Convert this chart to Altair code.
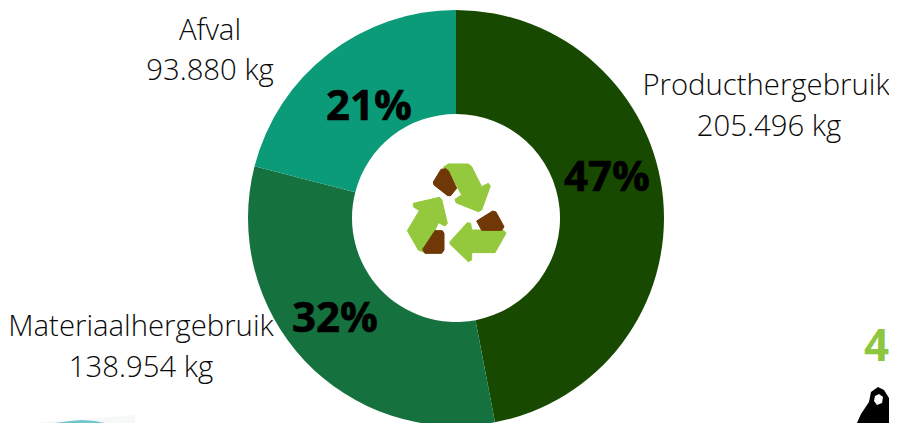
import altair as alt
import pandas as pd

categories = ["Producthergebruik", "Materiaalhergebruik", "Afval"]
shares = [47, 32, 21]
value_labels = ["205.496 kg", "138.954 kg", "93.880 kg"]
percents = ["47%", "32%", "21%"]
colors = ["#174a00", "#15723f", "#0b9b78"]

FONT = "Open Sans"
W, H = 881, 415
OX, OY = 8, 8  # page margin


def page_x(x):
    return x - OX


def page_y(y):
    return y - OY


df = pd.DataFrame({"category": categories, "value": shares, "idx": [0, 1, 2]})

donut = alt.Chart(df).mark_arc(outerRadius=208, innerRadius=104).encode(
    theta=alt.Theta("value:Q", stack=True),
    order=alt.Order("idx:Q"),
    color=alt.Color("category:N", scale=alt.Scale(domain=categories, range=colors), legend=None),
    x=alt.value(page_x(456)),
    y=alt.value(page_y(218)),
)

one = pd.DataFrame({"a": [1]})


def label(text, x, y, size=29.3, weight=300, color="#0a0a0a", align="center", stroke=0):
    kw = {"stroke": color, "strokeWidth": stroke} if stroke else {}
    return alt.Chart(pd.DataFrame({"t": [text]})).mark_text(
        font=FONT, fontSize=size, fontWeight=weight, color=color, align=align, baseline="alphabetic", **kw
    ).encode(x=alt.value(page_x(x)), y=alt.value(page_y(y)), text="t:N")


def to_path(points, cx, cy, half):
    cmds = []
    for i, (px, py) in enumerate(points):
        cmds.append(("M" if i == 0 else "L") + f"{(px - cx) / half:.4f},{(py - cy) / half:.4f}")
    return " ".join(cmds) + " Z"


def icon(points, color, x=455, y=210, span=110):
    return alt.Chart(one).mark_point(
        shape=to_path(points, 225, 210, 165), filled=True, fill=color, stroke=color, strokeWidth=1, opacity=1,
        size=span * span,
    ).encode(x=alt.value(page_x(x)), y=alt.value(page_y(y)))


def page_shape(points, color):
    return alt.Chart(one).mark_point(
        shape=to_path(points, 448.5, 211.5, 448.5),
        filled=True, fill=color, strokeWidth=0, opacity=1, size=897 * 897,
    ).encode(x=alt.value(page_x(448.5)), y=alt.value(page_y(211.5)))


GREEN = "#94c93d"
BROWN = "#703707"

arrow_top = [(190, 82), (205, 72), (265, 72), (275, 80), (305, 140), (325, 130), (331, 138), (305, 210),
             (295, 215), (228, 188), (225, 178), (245, 165), (210, 100)]
arrow_left = [(178, 172), (185, 178), (202, 250), (195, 258), (175, 248), (135, 338), (115, 330), (82, 272),
              (118, 212), (100, 200), (100, 190)]
arrow_right = [(210, 305), (262, 248), (272, 250), (275, 270), (370, 270), (378, 280), (345, 338), (275, 338),
               (275, 360), (265, 365), (210, 312)]
brown_top = [(183, 88), (197, 86), (205, 92), (230, 145), (212, 167), (203, 167), (162, 135), (160, 126)]
brown_left = [(165, 272), (187, 272), (192, 280), (192, 330), (185, 340), (135, 340), (128, 328)]
brown_right = [(290, 243), (338, 213), (348, 216), (372, 260), (365, 271), (305, 271)]

bell_points = [(889, 398), (884, 390), (878, 387), (871, 392), (869, 402), (861, 414), (857, 423), (889, 423)]
bell_hole = [(879, 394), (883, 397), (882, 403), (877, 405), (874, 401), (875, 396)]
teal_points = [(55, 423), (70, 421), (82, 420), (95, 421), (105, 423)]
haze_points = [(30, 423), (135, 415), (135, 423)]

layers = [
    donut,
    label(categories[0], 766, 95),
    label(value_labels[0], 769, 136),
    label(categories[1], 141, 336),
    label(value_labels[1], 141, 377),
    label(categories[2], 210, 40),
    label(value_labels[2], 210, 80),
    label(percents[0], 607, 191, size=42, weight="bold", color="#000000", stroke=0.6),
    label(percents[1], 335, 332, size=42, weight="bold", color="#000000", stroke=0.6),
    label(percents[2], 369, 120, size=42, weight="bold", color="#000000", stroke=0.6),
    icon(arrow_top, GREEN),
    icon(arrow_left, GREEN),
    icon(arrow_right, GREEN),
    icon(brown_top, BROWN),
    icon(brown_left, BROWN),
    icon(brown_right, BROWN),
    label("4", 864, 361, size=44, weight="bold", color="#8dc63f", align="left"),
    page_shape(haze_points, "#f7f8f8"),
    page_shape(teal_points, "#6fc6cf"),
    page_shape(bell_points, "#000000"),
    page_shape(bell_hole, "#ffffff"),
]

chart = alt.layer(*layers).properties(
    width=W, height=H, padding=0, background="white",
    autosize=alt.AutoSizeParams(type="none", contains="padding"),
).configure_view(stroke=None)

chart.save("out.html", embed_options={"renderer": "svg", "actions": False})
